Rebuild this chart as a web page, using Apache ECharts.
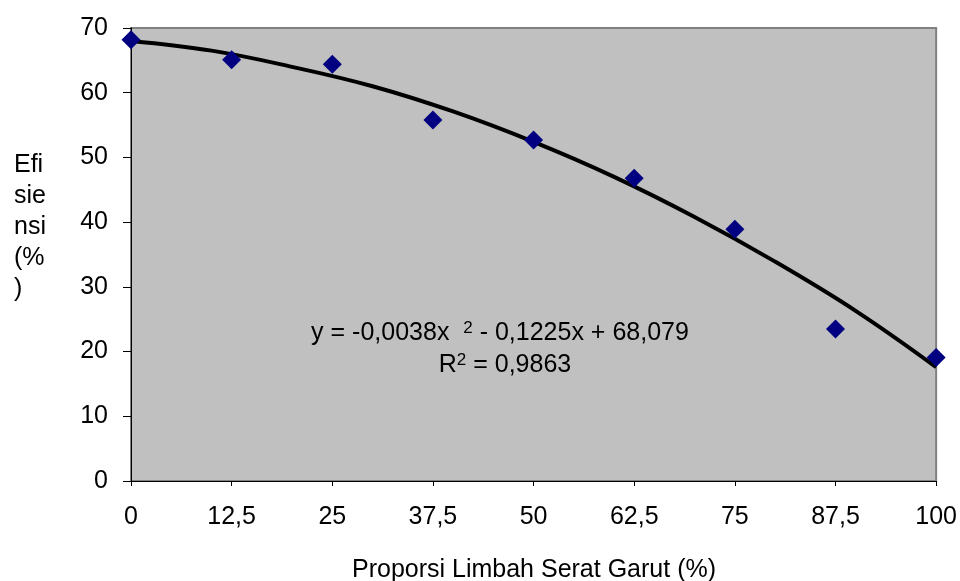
<!DOCTYPE html>
<html>
<head>
<meta charset="utf-8">
<script src="https://cdn.jsdelivr.net/npm/echarts@6/dist/echarts.min.js"></script>
<style>
html,body{margin:0;padding:0;background:#fff;}
#chart{width:960px;height:581px;}
</style>
</head>
<body>
<div id="chart"></div>
<script>
// data titik pengamatan
var proporsi = [0, 12.5, 25, 37.5, 50, 62.5, 75, 87.5, 100];
var efisiensi = [68.2, 65.1, 64.4, 55.8, 52.7, 46.8, 38.9, 23.5, 19.1];
// garis trend
var trendX = [0, 10, 20, 30, 40, 50, 60, 70, 80, 90, 100];
var trendY = [68.0, 66.5, 64.0, 61.0, 57.1, 52.4, 47.0, 40.8, 33.9, 26.3, 17.6];
var xTicks = ['0', '12,5', '25', '37,5', '50', '62,5', '75', '87,5', '100'];
var yTicks = ['0', '10', '20', '30', '40', '50', '60', '70'];

var pts = [];
for (let i = 0; i < proporsi.length; i++) {
	pts.push([proporsi[i], efisiensi[i]]);
}
var trend = [];
for (let i = 0; i < trendX.length; i++) {
	trend.push([trendX[i], trendY[i]]);
}

var font = 'Liberation Sans, Arial, sans-serif';
var myChart = echarts.init(document.getElementById('chart'));
var option = {
	backgroundColor: '#fff',
	animation: false,
	textStyle: { fontFamily: font },
	grid: {
		left: 131, right: 22, top: 28, bottom: 100,
		show: true,
		backgroundColor: '#c0c0c0',
		borderColor: '#808080',
		borderWidth: 2
	},
	xAxis: {
		type: 'value',
		min: 0, max: 100, interval: 12.5,
		axisLine: { onZero: false, lineStyle: { color: '#000', width: 1 } },
		axisTick: { show: true, length: 5, lineStyle: { color: '#000' } },
		splitLine: { show: false },
		axisLabel: {
			margin: 24,
			fontSize: 25,
			color: '#000',
			fontFamily: font,
			formatter: function(v) { return xTicks[Math.round(v / 12.5)]; }
		}
	},
	yAxis: {
		type: 'value',
		min: 0, max: 70, interval: 10,
		axisLine: { show: true, lineStyle: { color: '#000', width: 1 } },
		axisTick: { show: true, length: 8, lineStyle: { color: '#000' } },
		splitLine: { show: false },
		axisLabel: {
			margin: 23,
			fontSize: 25,
			color: '#000',
			fontFamily: font,
			formatter: function(v) { return yTicks[Math.round(v / 10)]; }
		}
	},
	series: [{
		name: 'trend',
		type: 'line',
		data: trend,
		smooth: 0.4,
		showSymbol: false,
		lineStyle: { color: '#000', width: 4 },
		z: 2
	}, {
		name: 'efisiensi',
		type: 'scatter',
		data: pts,
		symbol: 'diamond',
		symbolSize: [19, 19],
		itemStyle: { color: '#000080', opacity: 1 },
		z: 3
	}],
	graphic: [{
		type: 'text',
		left: 14, top: 150,
		style: {
			text: 'Efi\nsie\nnsi\n(%\n)',
			font: '25px ' + font,
			lineHeight: 31,
			fill: '#000'
		}
	}, {
		type: 'text',
		x: 534, y: 570,
		style: {
			text: 'Proporsi Limbah Serat Garut (%)',
			font: '25px ' + font,
			fill: '#000',
			align: 'center',
			verticalAlign: 'middle'
		}
	}, {
		type: 'text',
		x: 500, y: 333,
		style: {
			text: 'y = -0,0038x  {sup|2} - 0,1225x + 68,079',
			font: '25px ' + font,
			fill: '#000',
			align: 'center',
			verticalAlign: 'middle',
			rich: {
				sup: { fontSize: 17, verticalAlign: 'top', padding: [0, 0, 10, 0], fontFamily: font }
			}
		}
	}, {
		type: 'text',
		x: 505, y: 365,
		style: {
			text: 'R{sup|2} = 0,9863',
			font: '25px ' + font,
			fill: '#000',
			align: 'center',
			verticalAlign: 'middle',
			rich: {
				sup: { fontSize: 17, verticalAlign: 'top', padding: [0, 0, 10, 0], fontFamily: font }
			}
		}
	}]
};
myChart.setOption(option);
</script>
</body>
</html>
